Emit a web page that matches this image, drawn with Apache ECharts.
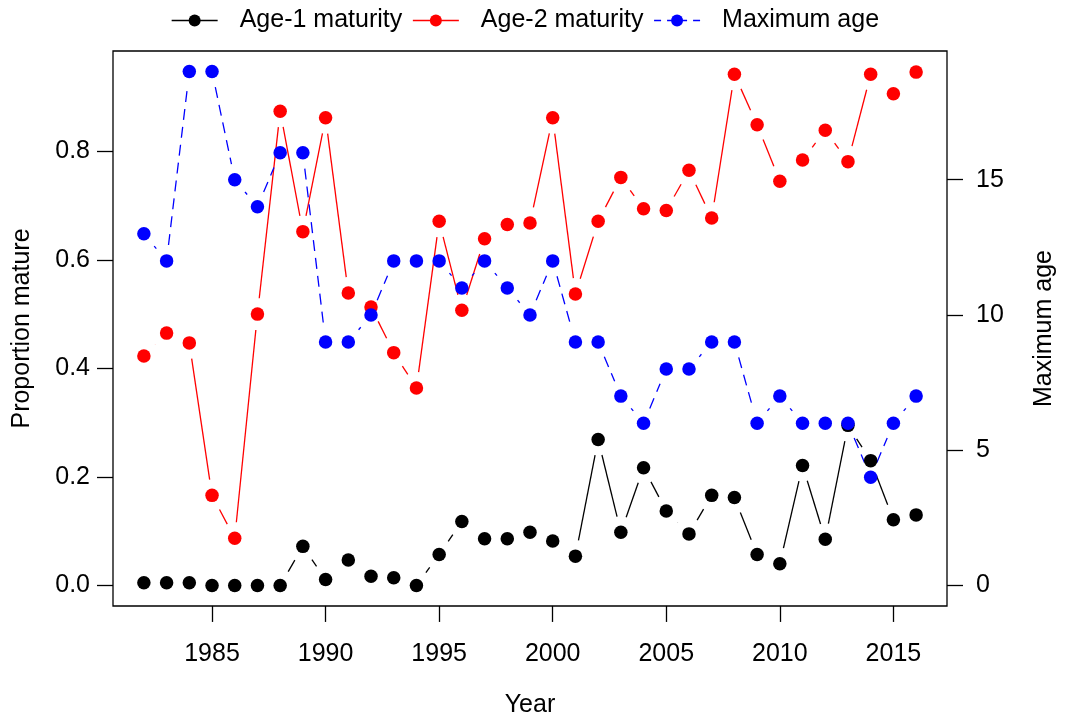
<!DOCTYPE html>
<html>
<head>
<meta charset="utf-8">
<script src="https://cdn.jsdelivr.net/npm/echarts@6/dist/echarts.min.js"></script>
<style>
  html, body { margin: 0; padding: 0; background: #fff; }
  #chart { width: 1065px; height: 723px; }
</style>
</head>
<body>
<div id="chart"></div>
<script>
// data
var years = [1982, 1983, 1984, 1985, 1986, 1987, 1988, 1989, 1990, 1991, 1992, 1993,
  1994, 1995, 1996, 1997, 1998, 1999, 2000, 2001, 2002, 2003, 2004, 2005, 2006,
  2007, 2008, 2009, 2010, 2011, 2012, 2013, 2014, 2015, 2016];

var age1 = [0.005, 0.005, 0.005, 0, 0, 0, 0, 0.072, 0.011, 0.047, 0.017, 0.014,
  0, 0.057, 0.118, 0.086, 0.086, 0.098, 0.082, 0.054, 0.269, 0.098, 0.217, 0.137, 0.095,
  0.166, 0.162, 0.057, 0.040, 0.221, 0.085, 0.295, 0.230, 0.121, 0.130];

var age2 = [0.423, 0.465, 0.447, 0.166, 0.087, 0.500, 0.874, 0.652, 0.862, 0.539, 0.513, 0.429,
  0.364, 0.671, 0.507, 0.639, 0.665, 0.668, 0.862, 0.537, 0.671, 0.752, 0.694, 0.691, 0.765,
  0.677, 0.942, 0.849, 0.745, 0.784, 0.839, 0.781, 0.942, 0.906, 0.946];

var maxAge = [13, 12, 19, 19, 15, 14, 16, 16, 9, 9, 10, 12,
  12, 12, 11, 12, 11, 10, 12, 9, 9, 7, 6, 8, 8,
  9, 9, 6, 7, 6, 6, 6, 4, 6, 7];

var yearTicks = [1985, 1990, 1995, 2000, 2005, 2010, 2015];
var propTicks = [0, 0.2, 0.4, 0.6, 0.8];
var ageTicks = [0, 5, 10, 15];

var FONT = "'Liberation Sans', Arial, sans-serif";
var GAP = 16; // R type="b" leaves a gap round each point
var DASH = [11, 7];

function pairs(xs, ys) {
  var out = [];
  for (var i = 0; i < xs.length - 1; i++) {
    out.push([xs[i], ys[i], xs[i + 1], ys[i + 1]]);
  }
  return out;
}

// segments between points, shortened at both ends like R does
function segments(name, vals, color, dash, axis) {
  return {
    name: name + ' lines',
    type: 'custom',
    yAxisIndex: axis,
    silent: true,
    encode: { x: [0, 2], y: [1, 3] },
    data: pairs(years, vals),
    renderItem: function (params, api) {
      var p0 = api.coord([api.value(0), api.value(1)]);
      var p1 = api.coord([api.value(2), api.value(3)]);
      var dx = p1[0] - p0[0], dy = p1[1] - p0[1];
      var len = Math.sqrt(dx * dx + dy * dy);
      if (len <= 2 * GAP) return null;
      var ux = dx / len, uy = dy / len;
      return {
        type: 'line',
        shape: {
          x1: p0[0] + ux * GAP, y1: p0[1] + uy * GAP,
          x2: p1[0] - ux * GAP, y2: p1[1] - uy * GAP
        },
        style: { stroke: color, lineWidth: 1.3, lineDash: dash, fill: null }
      };
    }
  };
}

function points(name, vals, color, axis) {
  var d = [];
  for (var i = 0; i < years.length; i++) d.push([years[i], vals[i]]);
  return {
    name: name,
    type: 'line',
    yAxisIndex: axis,
    silent: true,
    data: d,
    symbol: 'circle',
    symbolSize: 13.5,
    itemStyle: { color: color },
    lineStyle: { opacity: 0 }
  };
}

var tickStyle = { color: '#000', width: 1.3 };
var labelStyle = { color: '#000', fontSize: 25, fontFamily: FONT };

var chart = echarts.init(document.getElementById('chart'));
chart.setOption({
  animation: false,
  backgroundColor: '#fff',
  textStyle: { fontFamily: FONT },
  legend: {
    left: 171,
    top: 8,
    padding: 0,
    itemWidth: 46,
    itemHeight: 15,
    itemGap: 10,
    selectedMode: false,
    textStyle: { color: '#000', fontSize: 25, fontFamily: FONT, padding: [0, 0, 0, 17] },
    data: [
      { name: 'Age-1 maturity', lineStyle: { color: '#000', width: 1.3, opacity: 1, type: 'solid' } },
      { name: 'Age-2 maturity', lineStyle: { color: '#ff0000', width: 1.3, opacity: 1, type: 'solid' } },
      { name: 'Maximum age', lineStyle: { color: '#0000ff', width: 1.3, opacity: 1, type: [7, 6] } }
    ]
  },
  grid: {
    left: 113,
    right: 117,
    top: 51,
    bottom: 114,
    show: true,
    borderColor: '#000',
    borderWidth: 1.3,
    backgroundColor: 'transparent'
  },
  xAxis: {
    type: 'value',
    min: 1980.64,
    max: 2017.36,
    name: 'Year',
    nameLocation: 'middle',
    nameGap: 87,
    nameTextStyle: { color: '#000', fontSize: 25, fontFamily: FONT },
    // sit on the hidden helper axis whose zero is the bottom edge of the box
    axisLine: { show: false, onZero: true, onZeroAxisIndex: 2 },
    splitLine: { show: false },
    axisTick: { show: true, length: 16, lineStyle: tickStyle, customValues: yearTicks },
    axisLabel: Object.assign({
      margin: 36,
      customValues: yearTicks,
      formatter: function (v) { return String(v); }
    }, labelStyle)
  },
  yAxis: [
    {
      type: 'value',
      min: -0.0379,
      max: 0.9849,
      name: 'Proportion mature',
      nameLocation: 'middle',
      nameGap: 78,
      nameTextStyle: { color: '#000', fontSize: 25, fontFamily: FONT },
      axisLine: { show: false },
      splitLine: { show: false },
      axisTick: { show: true, length: 16, lineStyle: tickStyle, customValues: propTicks },
      axisLabel: Object.assign({
        margin: 23,
        customValues: propTicks,
        formatter: function (v) { return v.toFixed(1); }
      }, labelStyle)
    },
    {
      type: 'value',
      position: 'right',
      min: -0.76,
      max: 19.76,
      name: 'Maximum age',
      nameLocation: 'middle',
      nameGap: 85,
      nameTextStyle: { color: '#000', fontSize: 25, fontFamily: FONT },
      axisLine: { show: false },
      splitLine: { show: false },
      axisTick: { show: true, length: 16, lineStyle: tickStyle, customValues: ageTicks },
      axisLabel: Object.assign({ margin: 29, customValues: ageTicks }, labelStyle)
    },
    {
      type: 'value',
      min: -0.0001,
      max: 1,
      show: false
    }
  ],
  series: [
    segments('Age-1 maturity', age1, '#000', null, 0),
    points('Age-1 maturity', age1, '#000', 0),
    segments('Age-2 maturity', age2, '#ff0000', null, 0),
    points('Age-2 maturity', age2, '#ff0000', 0),
    segments('Maximum age', maxAge, '#0000ff', DASH, 1),
    points('Maximum age', maxAge, '#0000ff', 1)
  ]
});
</script>
</body>
</html>
